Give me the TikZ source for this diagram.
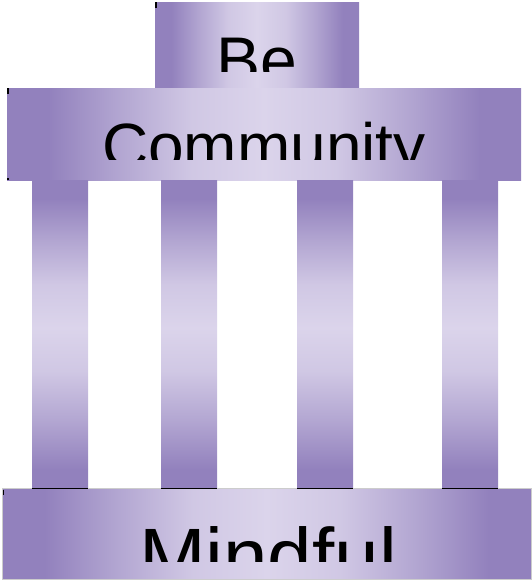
\documentclass[tikz,border=0pt]{standalone}
\usepackage{fontspec}
\setmainfont{Liberation Sans}
\usepackage{tikz}
\usetikzlibrary{positioning}
\definecolor{pDark}{RGB}{146,129,189}
\definecolor{pLight}{RGB}{219,212,235}
% the path covers 25bp..75bp of a shading
\pgfdeclarehorizontalshading{hbar}{100bp}{color(0bp)=(pDark); color(29bp)=(pDark); color(36bp)=(pDark!55!pLight); color(43bp)=(pLight!85!pDark); color(50bp)=(pLight); color(57bp)=(pLight!85!pDark); color(64bp)=(pDark!55!pLight); color(71bp)=(pDark); color(100bp)=(pDark)}
\pgfdeclareverticalshading{vbar}{100bp}{color(0bp)=(pDark); color(28bp)=(pDark); color(36bp)=(pDark!55!pLight); color(44bp)=(pLight!85!pDark); color(51bp)=(pLight); color(58bp)=(pLight!85!pDark); color(65bp)=(pDark!55!pLight); color(72bp)=(pDark); color(100bp)=(pDark)}

\begin{document}
\begin{tikzpicture}[x=1pt,y=-1pt,
  hb/.style={shading=hbar,inner sep=0pt,outer sep=0pt},
  pl/.style={shading=vbar,inner sep=0pt,outer sep=0pt,minimum width=56pt,minimum height=308pt},
  tx/.style={anchor=base,inner sep=0pt,text=black},
  tk/.style={line width=2pt,black}]
  \useasboundingbox (0,0) rectangle (532,581);
  % roof and beam
  \node[hb,minimum width=204pt,minimum height=86pt] (be) at (257,45) {};
  \node[hb,minimum width=514pt,minimum height=92pt] (cm) at (264,134) {};
  % pillars
  \foreach \n/\x in {p1/60,p2/189,p3/325,p4/470}
    \node[pl] (\n) at (\x,334) {};
  % base
  \node[hb,draw=gray!40,line width=1pt,minimum width=529pt,minimum height=91pt] (mf) at (266.5,533.5) {};
  \foreach \n in {p1,p2,p3,p4} \draw[black,line width=1pt] (\n.south west)--(\n.south east);
  % clipped labels
  \begin{scope}
    \clip (155,2) rectangle (359,71);
    \node[tx,font=\fontsize{66}{66}\selectfont] (tbe) at (257,83) {Be};
  \end{scope}
  \begin{scope}
    \clip (7,88) rectangle (521,159);
    \node[tx,font=\fontsize{64}{64}\selectfont] (tcm) at (264,168) {Community};
  \end{scope}
  \begin{scope}
    \clip (3,489) rectangle (530,561);
    \node[tx,font=\fontsize{80}{80}\selectfont] (tmf) at (268,584) {Mindful};
  \end{scope}
  % corner ticks
  \draw[tk] ([xshift=1pt]be.north west)--++(0,6);
  \draw[tk] ([xshift=1pt]cm.north west)--++(0,6);
  \draw[tk] ([xshift=1pt]cm.south west)--++(0,-2);
  \draw[black,line width=1pt] ([xshift=1.5pt,yshift=-1.5pt]mf.north west)--++(0,5);
\end{tikzpicture}
\end{document}
